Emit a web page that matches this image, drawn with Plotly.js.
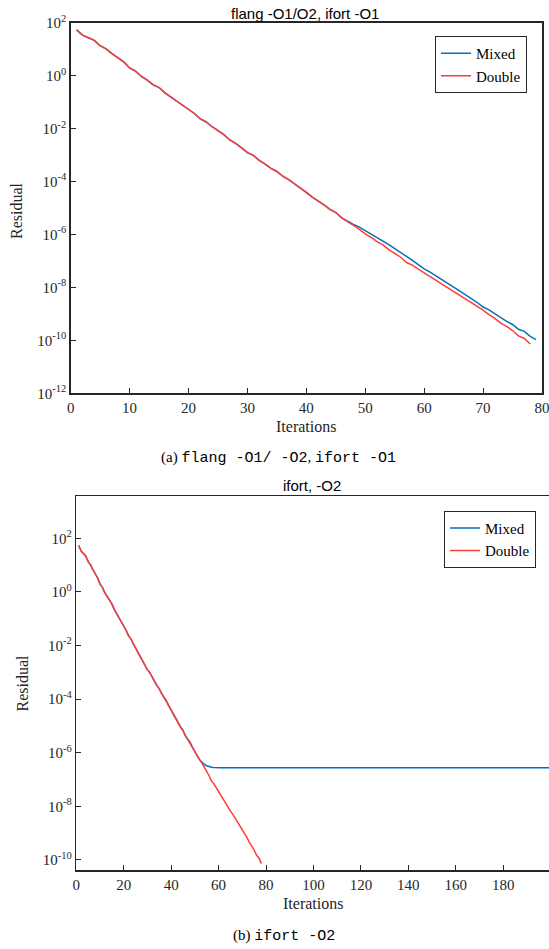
<!DOCTYPE html>
<html>
<head>
<meta charset="utf-8">
<script src="https://cdn.plot.ly/plotly-3.0.1.min.js"></script>
<style>html,body{margin:0;padding:0;background:#fff;}#chart{width:549px;height:949px;}</style>
</head>
<body>
<div id="chart"></div>
<script>
// ---- Data (log10 of residual per iteration, iteration = index + 1) ----
const doubleLog = [
  1.73, 1.53, 1.43, 1.33, 1.13, 1.01, 0.83, 0.68, 0.52, 0.29,
  0.17, -0.03, -0.17, -0.35, -0.45, -0.65, -0.80, -0.97, -1.10, -1.28,
  -1.43, -1.63, -1.75, -1.93, -2.09, -2.23, -2.43, -2.56, -2.73, -2.91,
  -3.01, -3.20, -3.34, -3.50, -3.62, -3.80, -3.93, -4.08, -4.25, -4.41,
  -4.59, -4.73, -4.88, -5.05, -5.17, -5.37, -5.50, -5.66, -5.81, -5.98,
  -6.11, -6.27, -6.39, -6.57, -6.71, -6.86, -7.06, -7.16, -7.31, -7.45,
  -7.61, -7.73, -7.88, -8.01, -8.18, -8.30, -8.44, -8.59, -8.72, -8.86,
  -9.03, -9.17, -9.35, -9.47, -9.63, -9.83, -9.93, -10.14
];
const mixedLogTop = [
  1.73, 1.53, 1.43, 1.33, 1.13, 1.01, 0.83, 0.68, 0.52, 0.29,
  0.17, -0.03, -0.17, -0.35, -0.45, -0.65, -0.80, -0.97, -1.10, -1.28,
  -1.43, -1.63, -1.75, -1.93, -2.09, -2.23, -2.43, -2.56, -2.73, -2.91,
  -3.01, -3.20, -3.34, -3.50, -3.62, -3.80, -3.93, -4.08, -4.25, -4.41,
  -4.59, -4.73, -4.88, -5.05, -5.17, -5.37, -5.50, -5.62, -5.72, -5.86,
  -6.00, -6.12, -6.25, -6.38, -6.53, -6.66, -6.80, -6.98, -7.14, -7.30,
  -7.42, -7.57, -7.72, -7.84, -7.99, -8.13, -8.26, -8.42, -8.57, -8.74,
  -8.85, -9.00, -9.13, -9.28, -9.40, -9.58, -9.66, -9.85, -9.97
];
const mixedLogBottom = [
  1.73, 1.53, 1.43, 1.33, 1.13, 1.01, 0.83, 0.68, 0.52, 0.29,
  0.17, -0.03, -0.17, -0.35, -0.45, -0.65, -0.80, -0.97, -1.10, -1.28,
  -1.43, -1.63, -1.75, -1.93, -2.09, -2.23, -2.43, -2.56, -2.73, -2.91,
  -3.01, -3.20, -3.34, -3.50, -3.62, -3.80, -3.93, -4.08, -4.25, -4.41,
  -4.59, -4.73, -4.88, -5.05, -5.17, -5.37, -5.50, -5.62, -5.80, -5.98,
  -6.12, -6.26, -6.37, -6.44, -6.49, -6.52, -6.54, -6.55, -6.56, -6.56,
  -6.56, -6.56, -6.56, -6.56, -6.56, -6.56, -6.56, -6.56, -6.56, -6.56,
  -6.56, -6.56, -6.56, -6.56, -6.56, -6.56, -6.56, -6.56, -6.56, -6.56,
  -6.56, -6.56, -6.56, -6.56, -6.56, -6.56, -6.56, -6.56, -6.56, -6.56,
  -6.56, -6.56, -6.56, -6.56, -6.56, -6.56, -6.56, -6.56, -6.56, -6.56,
  -6.56, -6.56, -6.56, -6.56, -6.56, -6.56, -6.56, -6.56, -6.56, -6.56,
  -6.56, -6.56, -6.56, -6.56, -6.56, -6.56, -6.56, -6.56, -6.56, -6.56,
  -6.56, -6.56, -6.56, -6.56, -6.56, -6.56, -6.56, -6.56, -6.56, -6.56,
  -6.56, -6.56, -6.56, -6.56, -6.56, -6.56, -6.56, -6.56, -6.56, -6.56,
  -6.56, -6.56, -6.56, -6.56, -6.56, -6.56, -6.56, -6.56, -6.56, -6.56,
  -6.56, -6.56, -6.56, -6.56, -6.56, -6.56, -6.56, -6.56, -6.56, -6.56,
  -6.56, -6.56, -6.56, -6.56, -6.56, -6.56, -6.56, -6.56, -6.56, -6.56,
  -6.56, -6.56, -6.56, -6.56, -6.56, -6.56, -6.56, -6.56, -6.56, -6.56,
  -6.56, -6.56, -6.56, -6.56, -6.56, -6.56, -6.56, -6.56, -6.56, -6.56,
  -6.56, -6.56, -6.56, -6.56, -6.56, -6.56, -6.56, -6.56, -6.56, -6.56
];
const seriesNames = ['Mixed', 'Double'];
const titleTop = 'flang -O1/O2, ifort -O1';
const titleBottom = 'ifort, -O2';
const xTicksTop = [0, 10, 20, 30, 40, 50, 60, 70, 80];
const xTicksBottom = [0, 20, 40, 60, 80, 100, 120, 140, 160, 180];
const yExpTop = [2, 0, -2, -4, -6, -8, -10, -12];
const yExpBottom = [2, 0, -2, -4, -6, -8, -10];

// ---- helpers ----
const W = 549, H = 949;
const px = x => x / W;
const py = y => 1 - y / H;
const toVal = arr => arr.map(v => Math.pow(10, v));
const iters = arr => arr.map((_, i) => i + 1);

const SERIF = 'Liberation Serif, Times New Roman, serif';
const SANS = 'Liberation Sans, Arial, sans-serif';
const MONO = 'Liberation Mono, DejaVu Sans Mono, monospace';
const INK = '#262626';
const BLUE = '#0072BD';
const RED = '#FF3B3B';

const traces = [
  {x: iters(mixedLogTop), y: toVal(mixedLogTop), name: seriesNames[0], type: 'scatter', mode: 'lines',
   line: {color: BLUE, width: 1.5}, xaxis: 'x', yaxis: 'y', legend: 'legend'},
  {x: iters(doubleLog), y: toVal(doubleLog), name: seriesNames[1], type: 'scatter', mode: 'lines',
   line: {color: RED, width: 1.5}, xaxis: 'x', yaxis: 'y', legend: 'legend'},
  {x: iters(mixedLogBottom), y: toVal(mixedLogBottom), name: seriesNames[0], type: 'scatter', mode: 'lines',
   line: {color: BLUE, width: 1.5}, xaxis: 'x2', yaxis: 'y2', legend: 'legend2'},
  {x: iters(doubleLog), y: toVal(doubleLog), name: seriesNames[1], type: 'scatter', mode: 'lines',
   line: {color: RED, width: 1.5}, xaxis: 'x2', yaxis: 'y2', legend: 'legend2'}
];

const axisCommon = {
  showgrid: false, zeroline: false, showline: true, linecolor: INK, linewidth: 1.5,
  ticks: 'inside', ticklen: 5, tickwidth: 1, tickcolor: INK,
  ticklabeloverflow: 'allow',
  tickfont: {family: SERIF, size: 15, color: INK}
};
const supText = e => '10<sup>' + e + '</sup>';

const layout = {
  width: W, height: H,
  margin: {l: 0, r: 0, t: 0, b: 0},
  paper_bgcolor: '#fff', plot_bgcolor: '#fff',
  xaxis: Object.assign({}, axisCommon, {
    domain: [px(70.7), px(542)], range: [0, 80], anchor: 'y', mirror: true,
    tickvals: xTicksTop, ticktext: xTicksTop.map(String)
  }),
  yaxis: Object.assign({}, axisCommon, {
    domain: [py(393.3), py(22.7)], type: 'log', range: [-12, 2], anchor: 'x', mirror: true,
    tickvals: yExpTop.map(e => Math.pow(10, e)), ticktext: yExpTop.map(supText)
  }),
  xaxis2: Object.assign({}, axisCommon, {
    domain: [px(76.3), 1], range: [0, 199.3], anchor: 'y2', mirror: true,
    tickvals: xTicksBottom, ticktext: xTicksBottom.map(String)
  }),
  yaxis2: Object.assign({}, axisCommon, {
    domain: [py(870), py(496)], type: 'log', range: [-10.377, 3.578], anchor: 'x2', mirror: true,
    tickvals: yExpBottom.map(e => Math.pow(10, e)), ticktext: yExpBottom.map(supText)
  }),
  legend: {
    x: px(527), xanchor: 'right', y: py(36), yanchor: 'top',
    bgcolor: '#fff', bordercolor: INK, borderwidth: 1,
    font: {family: SERIF, size: 15, color: '#000'}, tracegroupgap: 0
  },
  legend2: {
    x: px(536), xanchor: 'right', y: py(510.7), yanchor: 'top',
    bgcolor: '#fff', bordercolor: INK, borderwidth: 1,
    font: {family: SERIF, size: 15, color: '#000'}, tracegroupgap: 0
  },
  showlegend: true,
  annotations: [
    {text: titleTop, x: px(305), y: py(13), xref: 'paper', yref: 'paper', xanchor: 'center', yanchor: 'middle',
     showarrow: false, font: {family: SANS, size: 15, color: '#000'}},
    {text: titleBottom, x: px(312), y: py(485), xref: 'paper', yref: 'paper', xanchor: 'center', yanchor: 'middle',
     showarrow: false, font: {family: SANS, size: 15, color: '#000'}},
    {text: 'Residual', x: px(17), y: py(211), xref: 'paper', yref: 'paper', xanchor: 'center', yanchor: 'middle',
     textangle: -90, showarrow: false, font: {family: SERIF, size: 16, color: INK}},
    {text: 'Residual', x: px(21.5), y: py(683), xref: 'paper', yref: 'paper', xanchor: 'center', yanchor: 'middle',
     textangle: -90, showarrow: false, font: {family: SERIF, size: 16, color: INK}},
    {text: 'Iterations', x: px(306), y: py(426.5), xref: 'paper', yref: 'paper', xanchor: 'center', yanchor: 'middle',
     showarrow: false, font: {family: SERIF, size: 16, color: INK}},
    {text: 'Iterations', x: px(313), y: py(903), xref: 'paper', yref: 'paper', xanchor: 'center', yanchor: 'middle',
     showarrow: false, font: {family: SERIF, size: 16, color: INK}},
    {text: '(a) <span style="font-family:' + MONO + '">flang -O1/ -O2</span>, <span style="font-family:' + MONO + '">ifort -O1</span>',
     x: px(278), y: py(458), xref: 'paper', yref: 'paper', xanchor: 'center', yanchor: 'middle',
     showarrow: false, font: {family: SERIF, size: 15, color: '#000'}},
    {text: '(b) <span style="font-family:' + MONO + '">ifort -O2</span>',
     x: px(283.5), y: py(935.5), xref: 'paper', yref: 'paper', xanchor: 'center', yanchor: 'middle',
     showarrow: false, font: {family: SERIF, size: 15, color: '#000'}}
  ]
};

Plotly.newPlot('chart', traces, layout, {displayModeBar: false, staticPlot: true});
</script>
</body>
</html>
